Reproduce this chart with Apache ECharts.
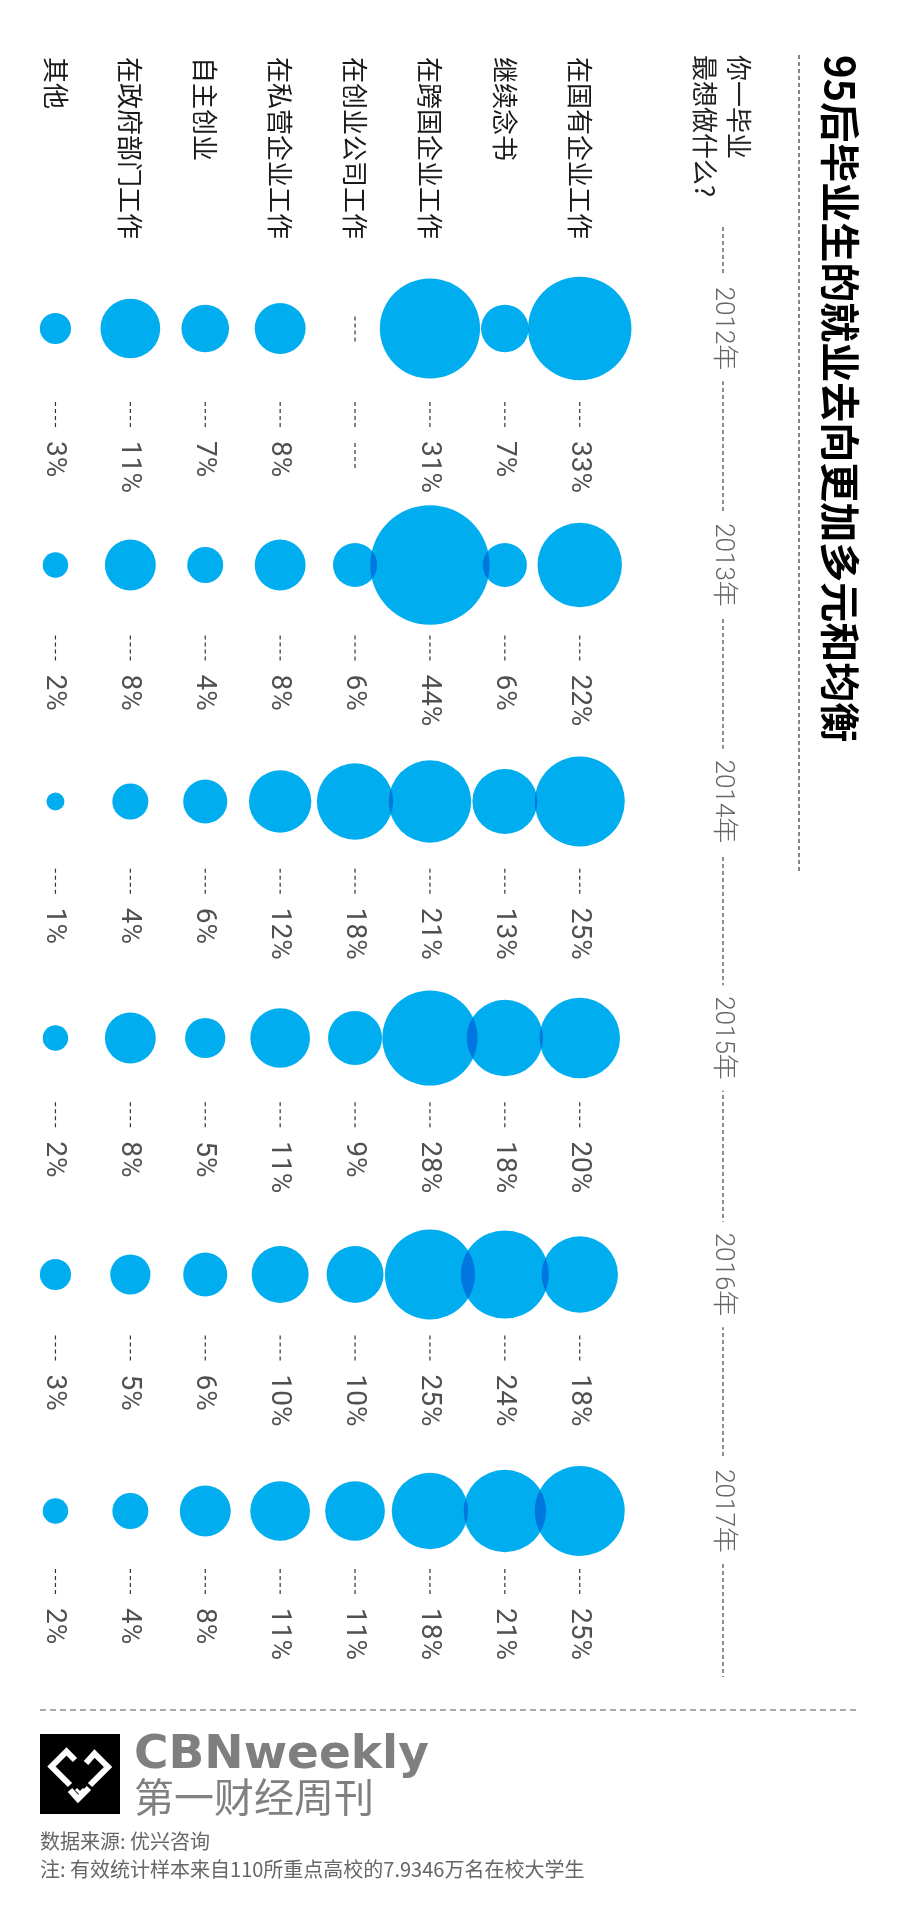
<!DOCTYPE html>
<html>
<head>
<meta charset="utf-8">
<script src="https://cdn.jsdelivr.net/npm/echarts@6/dist/echarts.min.js"></script>
<style>
html,body{margin:0;padding:0;background:#fff;}
#c{width:900px;height:1916px;}
</style>
</head>
<body>
<div id="c"></div>
<script>
// ---------------- data ----------------
const categories = ['在国有企业工作','继续念书','在跨国企业工作','在创业公司工作','在私营企业工作','自主创业','在政府部门工作','其他'];
const years = ['2012年','2013年','2014年','2015年','2016年','2017年'];
const v2012 = [33, 7, 31, null, 8, 7, 11, 3];
const v2013 = [22, 6, 44, 6, 8, 4, 8, 2];
const v2014 = [25, 13, 21, 18, 12, 6, 4, 1];
const v2015 = [20, 18, 28, 9, 11, 5, 8, 2];
const v2016 = [18, 24, 25, 10, 10, 6, 5, 3];
const v2017 = [25, 21, 18, 11, 11, 8, 4, 2];
const titleText = '95后毕业生的就业去向更加多元和均衡';
const questionLines = ['你一毕业', '最想做什么?'];
const brandName = 'CBNweekly';
const brandCn = '第一财经周刊';
const sourceText = '数据来源: 优兴咨询';
const noteText = '注: 有效统计样本来自110所重点高校的7.9346万名在校大学生';

// ---------------- build ----------------
const yearValues = [v2012, v2013, v2014, v2015, v2016, v2017];
const present = [], missing = [];
yearValues.forEach((row, yi) => row.forEach((v, ci) => {
  if (v === null) missing.push([ci, yi]); else present.push([ci, yi, v]);
}));

const BLUE = '#00AEEF';
const SIZE_K = 18;        // diameter per sqrt(percent)
const CJK = '"Noto Sans CJK SC", sans-serif';
const NUM = 'Roboto, "Noto Sans CJK SC", sans-serif';
const dash = (x1, y1, x2, y2, color, w, pattern) => ({
  type: 'line', silent: true,
  shape: {x1, y1, x2, y2},
  style: {stroke: color, lineWidth: w, lineDash: pattern}
});
const vtext = (x, y, text, font, fill, align, valign) => ({
  type: 'text', x, y, rotation: -Math.PI / 2, silent: true,
  style: {text, font, fill, align: align, verticalAlign: valign, textAlign: align, textVerticalAlign: valign}
});
const htext = (x, y, text, font, fill) => ({
  type: 'text', x, y, silent: true,
  style: {text, font, fill, align: 'left', verticalAlign: 'middle', textAlign: 'left', textVerticalAlign: 'middle'}
});
const whiteLine = (pts, w) => ({
  type: 'polyline', silent: true, shape: {points: pts},
  style: {stroke: '#fff', lineWidth: w, fill: null, lineJoin: 'miter', lineCap: 'butt'}
});

const chart = echarts.init(document.getElementById('c'), null, {renderer: 'canvas'});
const gridLeft = 18, gridWidth = 599.2;
const option = {
  backgroundColor: '#fff',
  animation: false,
  grid: [
    // bubbles + year labels
    {left: gridLeft, width: gridWidth, top: 210.25, height: 1419, outerBoundsMode: 'none', containLabel: false},
    // percentage labels
    {left: gridLeft, width: gridWidth, top: 324.3, height: 1400.4, outerBoundsMode: 'none', containLabel: false},
    // category header (its bottom edge is where the header labels start)
    {left: gridLeft, width: gridWidth, top: 0, height: 57, outerBoundsMode: 'none', containLabel: false}
  ],
  xAxis: [
    {type: 'category', gridIndex: 0, data: categories, inverse: true, show: false},
    {type: 'category', gridIndex: 1, data: categories, inverse: true, show: false},
    {
      type: 'category', gridIndex: 2, data: categories, inverse: true,
      position: 'bottom',
      axisLine: {show: false}, axisTick: {show: false}, splitLine: {show: false},
      axisLabel: {
        interval: 0, rotate: -90, margin: 0,
        fontSize: 26, color: '#1a1a1a', fontFamily: CJK
      }
    }
  ],
  yAxis: [
    {
      type: 'category', gridIndex: 0, data: years, inverse: true,
      position: 'right', offset: 105.75,
      axisLine: {show: false}, axisTick: {show: false}, splitLine: {show: false},
      axisLabel: {
        interval: 0, rotate: -90, margin: 0, align: 'center', verticalAlign: 'middle',
        fontSize: 26, fontWeight: 300, color: '#666', fontFamily: NUM,
        backgroundColor: '#fff', padding: [2, 11]
      }
    },
    {type: 'category', gridIndex: 1, data: years, inverse: true, show: false},
    {type: 'value', gridIndex: 2, show: false}
  ],
  series: [
    {
      type: 'scatter', xAxisIndex: 0, yAxisIndex: 0,
      data: present,
      encode: {x: 0, y: 1},
      symbol: 'circle',
      symbolSize: d => SIZE_K * Math.sqrt(d[2]),
      itemStyle: {color: BLUE, opacity: 1},
      blendMode: 'multiply',
      silent: true,
      emphasis: {disabled: true}
    },
    {
      type: 'custom', xAxisIndex: 0, yAxisIndex: 0,
      data: missing, encode: {x: 0, y: 1}, silent: true, clip: false,
      renderItem: (params, api) => {
        const p = api.coord([api.value(0), api.value(1)]);
        return dash(p[0], p[1] - 12, p[0], p[1] + 13, '#333', 1.2, [4, 3]);
      }
    },
    {
      type: 'custom', xAxisIndex: 1, yAxisIndex: 1,
      data: present, encode: {x: 0, y: 1}, silent: true, clip: false,
      renderItem: (params, api) => {
        const p = api.coord([api.value(0), api.value(1)]);
        return {type: 'group', children: [
          dash(p[0], p[1] - 39, p[0], p[1] - 14, '#333', 1.2, [4, 3]),
          vtext(p[0] - 1, p[1], api.value(2) + '%', '28px ' + NUM, '#505050', 'left', 'middle')
        ]};
      }
    },
    {
      type: 'custom', xAxisIndex: 1, yAxisIndex: 1,
      data: missing, encode: {x: 0, y: 1}, silent: true, clip: false,
      renderItem: (params, api) => {
        const p = api.coord([api.value(0), api.value(1)]);
        return {type: 'group', children: [
          dash(p[0], p[1] - 39, p[0], p[1] - 14, '#333', 1.2, [4, 3]),
          dash(p[0], p[1] + 2, p[0], p[1] + 27, '#333', 1.2, [4, 3])
        ]};
      }
    }
  ],
  graphic: {
    elements: [
      // title and side rule
      vtext(840, 55, titleText, 'bold 40px ' + CJK, '#000', 'left', 'middle'),
      Object.assign(dash(799, 55, 799, 873, '#333', 1.2, [4, 3]), {z: -5}),
      vtext(739, 55, questionLines[0], '26px ' + CJK, '#222', 'left', 'middle'),
      vtext(705, 55, questionLines[1], '26px ' + CJK, '#222', 'left', 'middle'),
      // year axis rule (under the year labels)
      Object.assign(dash(723, 227, 723, 1677, '#444', 1.2, [4, 3]), {z: -5}),
      // footer separator
      dash(40, 1710, 860, 1710, '#555', 1.2, [6, 4]),
      // logo
      {type: 'rect', shape: {x: 40, y: 1734, width: 80, height: 80}, style: {fill: '#000'}, silent: true},
      whiteLine([[75, 1760], [66.5, 1751.5], [51.5, 1766.5], [70, 1785]], 6),
      whiteLine([[86, 1763], [94.5, 1753.5], [108, 1767], [90, 1785]], 6),
      whiteLine([[70, 1790], [78, 1799], [89, 1788]], 6),
      whiteLine([[76, 1789], [80, 1793], [84, 1789]], 3),
      // brand and notes
      htext(134, 1756, brandName, 'bold 47px "DejaVu Sans", sans-serif', '#7f7f7f'),
      htext(134, 1797, brandCn, '40px ' + CJK, '#808080'),
      htext(40, 1841, sourceText, '20px ' + CJK, '#666'),
      htext(40, 1869, noteText, '20px ' + CJK, '#666')
    ]
  }
};
chart.setOption(option);
</script>
</body>
</html>
